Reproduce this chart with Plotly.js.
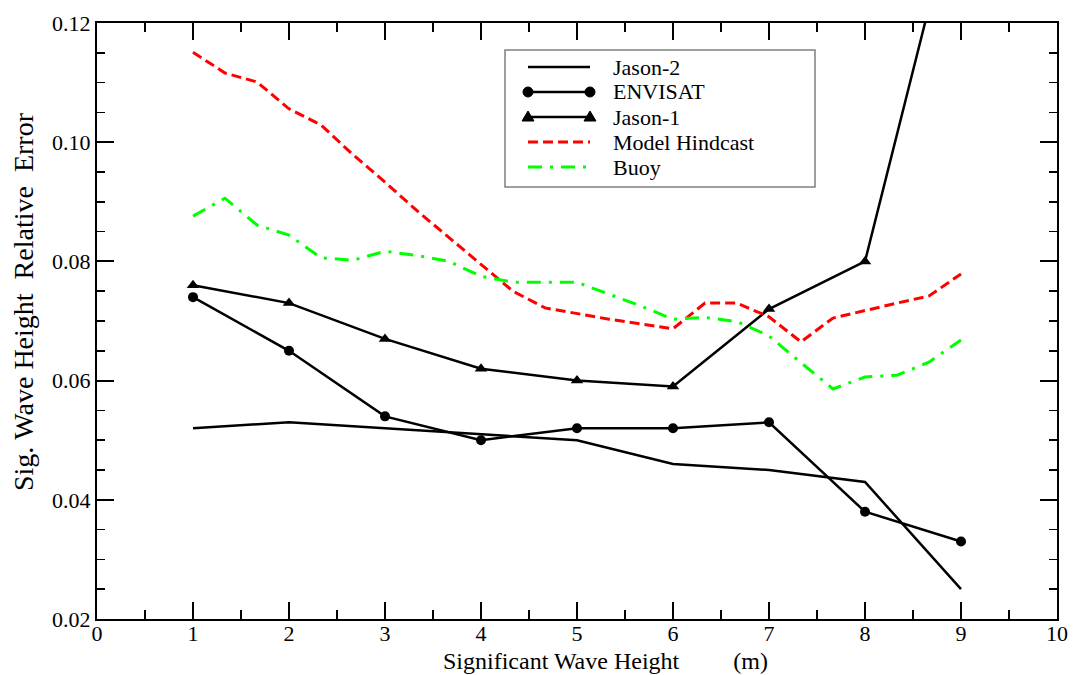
<!DOCTYPE html>
<html>
<head>
<meta charset="utf-8">
<script src="https://cdn.plot.ly/plotly-3.0.1.min.js"></script>
<style>
  html, body { margin: 0; padding: 0; background: #fff; }
  #chart { width: 1076px; height: 675px; }
</style>
</head>
<body>
<div id="chart"></div>
<script>
// Significant wave height bins (m)
const heights = [1, 2, 3, 4, 5, 6, 7, 8, 9];
// Finer bins for the model hindcast and buoy curves
const heightsFine = [1, 1.333, 1.667, 2, 2.333, 2.667, 3, 3.333, 3.667, 4, 4.333, 4.667,
                     5, 5.333, 5.667, 6, 6.333, 6.667, 7, 7.333, 7.667, 8, 8.333, 8.667, 9];

// Relative error of significant wave height per bin
const jason2  = [0.052, 0.053, 0.052, 0.051, 0.050, 0.046, 0.045, 0.043, 0.025];
const envisat = [0.074, 0.065, 0.054, 0.050, 0.052, 0.052, 0.053, 0.038, 0.033];
const jason1  = [0.076, 0.073, 0.067, 0.062, 0.060, 0.059, 0.072, 0.080, 0.144];
const hindcast = [0.1151, 0.1116, 0.1101, 0.1056, 0.1029, 0.0979, 0.0933, 0.0885, 0.0840,
                  0.0795, 0.0750, 0.0722, 0.0712, 0.0703, 0.0695, 0.0687, 0.0730, 0.0730,
                  0.0707, 0.0665, 0.0705, 0.0718, 0.0730, 0.0742, 0.0779];
const buoy = [0.0876, 0.0906, 0.0861, 0.0844, 0.0806, 0.0802, 0.0817, 0.0810, 0.0800,
              0.0775, 0.0765, 0.0765, 0.0765, 0.0745, 0.0725, 0.0703, 0.0706, 0.0699,
              0.0675, 0.0630, 0.0586, 0.0606, 0.0609, 0.0631, 0.0668];

const seriesNames = ['Jason-2', 'ENVISAT', 'Jason-1', 'Model Hindcast', 'Buoy'];
const xTickVals = [0, 1, 2, 3, 4, 5, 6, 7, 8, 9, 10];
const yTickVals = [0.02, 0.04, 0.06, 0.08, 0.10, 0.12];
const xTitle = 'Significant Wave Height' + '\u00a0'.repeat(9) + '(m)';
const yTitle = 'Sig.\u00a0Wave\u00a0Height\u00a0\u00a0Relative\u00a0\u00a0Error';

const serif = "'Liberation Serif', 'Times New Roman', serif";

// Line / marker style of each series (shared by the plot and the key box)
const styles = [
  { line: { color: '#000', width: 2.5 }, symbol: null },
  { line: { color: '#000', width: 2.5 }, symbol: 'circle' },
  { line: { color: '#000', width: 2.5 }, symbol: 'triangle-up' },
  { line: { color: '#ff0000', width: 3, dash: '10px,5px' }, symbol: null },
  { line: { color: '#00ff00', width: 3, dash: '14px,8px,3px,8px' }, symbol: null }
];
const xs = [heights, heights, heights, heightsFine, heightsFine];
const ys = [jason2, envisat, jason1, hindcast, buoy];

const traces = seriesNames.map((name, i) => {
  const t = {
    x: xs[i], y: ys[i], name: name,
    mode: styles[i].symbol ? 'lines+markers' : 'lines',
    line: styles[i].line,
    showlegend: false
  };
  if (styles[i].symbol) {
    t.marker = { symbol: styles[i].symbol, size: styles[i].symbol === 'circle' ? 10 : 11, color: '#000' };
  }
  return t;
});

// Plot-area geometry in pixels
const W = 1076, H = 675;
const M = { l: 97, r: 19, t: 23, b: 56 };
const plotW = W - M.l - M.r, plotH = H - M.t - M.b;
const px = x => (x - M.l) / plotW;          // pixel column -> paper x
const py = y => (H - M.b - y) / plotH;      // pixel row -> paper y

// Key box drawn with shapes and annotations
const key = { left: 505, top: 50, right: 815, bottom: 187, row0: 67, rowStep: 25,
              sampleL: 528, sampleR: 590, textL: 612 };
const shapes = [{
  type: 'rect', xref: 'paper', yref: 'paper',
  x0: px(key.left), x1: px(key.right), y0: py(key.bottom), y1: py(key.top),
  line: { color: '#808080', width: 1.5 }, fillcolor: '#fff', layer: 'above'
}];
const annotations = [];
seriesNames.forEach((name, i) => {
  const ry = key.row0 + i * key.rowStep;
  shapes.push({
    type: 'line', xref: 'paper', yref: 'paper', layer: 'above',
    x0: px(key.sampleL), x1: px(key.sampleR), y0: py(ry), y1: py(ry),
    line: Object.assign({}, styles[i].line)
  });
  [key.sampleL, key.sampleR].forEach(cx => {
    if (styles[i].symbol === 'circle') {
      const r = 5;
      shapes.push({
        type: 'circle', xref: 'paper', yref: 'paper', layer: 'above',
        x0: px(cx - r), x1: px(cx + r), y0: py(ry + r), y1: py(ry - r),
        fillcolor: '#000', line: { color: '#000', width: 1 }
      });
    } else if (styles[i].symbol === 'triangle-up') {
      const a = px(cx - 6), b = px(cx + 6), c = px(cx);
      const yb = py(ry + 4), yt = py(ry - 6);
      shapes.push({
        type: 'path', xref: 'paper', yref: 'paper', layer: 'above',
        path: `M ${a} ${yb} L ${b} ${yb} L ${c} ${yt} Z`,
        fillcolor: '#000', line: { color: '#000', width: 1 }
      });
    }
  });
  annotations.push({
    xref: 'paper', yref: 'paper', x: px(key.textL), y: py(ry),
    xanchor: 'left', yanchor: 'middle', showarrow: false, borderpad: 0,
    text: name, font: { family: serif, size: 22, color: '#000' }
  });
});

// Axis titles
annotations.push({
  xref: 'paper', yref: 'paper', x: px(605), y: py(661),
  xanchor: 'center', yanchor: 'middle', showarrow: false, borderpad: 0,
  text: xTitle, font: { family: serif, size: 24, color: '#000' }
});
annotations.push({
  xref: 'paper', yref: 'paper', x: px(23), y: py(302),
  xanchor: 'center', yanchor: 'middle', showarrow: false, textangle: -90, borderpad: 0,
  text: yTitle, font: { family: serif, size: 28, color: '#000' }
});

const axisCommon = {
  showgrid: false,
  zeroline: false,
  showline: true,
  linecolor: '#000',
  linewidth: 2,
  mirror: 'allticks',
  ticks: 'inside',
  tickcolor: '#000',
  tickwidth: 2,
  ticklen: 17,
  tickfont: { family: serif, size: 22, color: '#000' }
};

const layout = {
  width: W,
  height: H,
  margin: M,
  paper_bgcolor: '#fff',
  plot_bgcolor: '#fff',
  showlegend: false,
  shapes: shapes,
  annotations: annotations,
  xaxis: Object.assign({}, axisCommon, {
    range: [0, 10],
    tickvals: xTickVals,
    ticktext: xTickVals.map(String),
    ticklabelstandoff: -6,
    minor: { dtick: 0.5, ticks: 'inside', ticklen: 9, tickwidth: 1.5, tickcolor: '#000' }
  }),
  yaxis: Object.assign({}, axisCommon, {
    range: [0.02, 0.12],
    tickvals: yTickVals,
    tickformat: '.2f',
    minor: { dtick: 0.005, ticks: 'inside', ticklen: 8, tickwidth: 1.5, tickcolor: '#000' }
  })
};

Plotly.newPlot('chart', traces, layout, { displayModeBar: false, staticPlot: true });
</script>
</body>
</html>
